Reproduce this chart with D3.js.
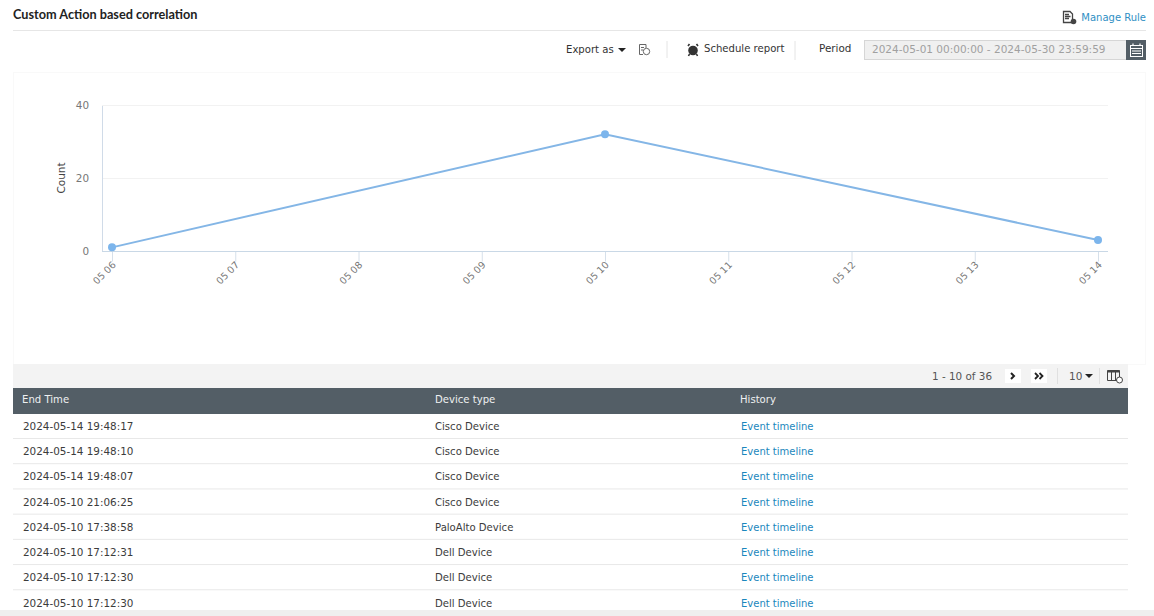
<!DOCTYPE html>
<html>
<head>
<meta charset="utf-8">
<script src="https://cdn.jsdelivr.net/npm/d3@7"></script>
<style>
html, body { margin: 0; padding: 0; background: #fff; overflow: hidden; }
svg { display: block; }
text { font-family: "DejaVu Sans", sans-serif; }
</style>
</head>
<body>
<svg id="page" width="1154" height="616"></svg>
<script>
// chart values
var dayLabels = ["05 06", "05 07", "05 08", "05 09", "05 10", "05 11", "05 12", "05 13", "05 14"];
var pointDays = ["05 06", "05 10", "05 14"];
var pointCounts = [1, 32, 3];
var yTicks = [0, 20, 40];

// table values
var columns = ["End Time", "Device type", "History"];
var endTimes = ["2024-05-14 19:48:17", "2024-05-14 19:48:10", "2024-05-14 19:48:07", "2024-05-10 21:06:25",
  "2024-05-10 17:38:58", "2024-05-10 17:12:31", "2024-05-10 17:12:30", "2024-05-10 17:12:30"];
var deviceTypes = ["Cisco Device", "Cisco Device", "Cisco Device", "Cisco Device",
  "PaloAlto Device", "Dell Device", "Dell Device", "Dell Device"];
var historyLinks = ["Event timeline", "Event timeline", "Event timeline", "Event timeline",
  "Event timeline", "Event timeline", "Event timeline", "Event timeline"];

var svg = d3.select("#page");

function label(parent, x, y, str, size, color, anchor) {
  return parent.append("text").attr("x", x).attr("y", y).text(str)
    .attr("font-size", size).attr("fill", color).attr("text-anchor", anchor || "start");
}

// page header
label(svg, 13, 19, "Custom Action based correlation", 12.7, "#222").style("font-family", "Lato").attr("font-weight", 700);
svg.append("line").attr("x1", 13).attr("x2", 1146).attr("y1", 30.5).attr("y2", 30.5).attr("stroke", "#e6e6e6");
label(svg, 1146, 21, "Manage Rule", 10, "#2f8fc4", "end");

// manage rule icon
var mr = svg.append("g").attr("transform", "translate(1063,11)");
mr.append("path").attr("d", "M0.5 0.5H7L9.5 3V11.5H0.5Z M2 3.5H6 M2 5.5H7.5 M2 7.5H6").attr("fill", "none").attr("stroke", "#444").attr("stroke-width", 1.3);
mr.append("circle").attr("cx", 10.5).attr("cy", 10.5).attr("r", 2.8).attr("fill", "#444");

// toolbar
label(svg, 566, 53, "Export as", 10.1, "#333");
svg.append("path").attr("d", "M618 48H626L622 52Z").attr("fill", "#222");
var ex = svg.append("g").attr("transform", "translate(639,44)");
ex.append("path").attr("d", "M0.5 0.5H7V4 M0.5 0.5V10.5H4 M2 3.5H5 M2 6H4").attr("fill", "none").attr("stroke", "#666");
ex.append("circle").attr("cx", 7.5).attr("cy", 7.5).attr("r", 3.2).attr("fill", "none").attr("stroke", "#666");
svg.append("line").attr("x1", 667).attr("x2", 667).attr("y1", 41).attr("y2", 58).attr("stroke", "#e4e4e4");

var al = svg.append("g").attr("transform", "translate(674,50)");
al.append("circle").attr("cx", 19).attr("cy", 0.5).attr("r", 4.8).attr("fill", "#333");
al.append("path").attr("d", "M14 -4L15.5 -6 M24 -4L22.5 -6 M15.5 4L14.5 6 M22.5 4L23.5 6").attr("stroke", "#333").attr("stroke-width", 1.6);
label(svg, 704, 52, "Schedule report", 10.1, "#333");
svg.append("line").attr("x1", 795).attr("x2", 795).attr("y1", 41).attr("y2", 60).attr("stroke", "#e4e4e4");
label(svg, 819, 52, "Period", 10.4, "#333");

svg.append("rect").attr("x", 864.5).attr("y", 40.5).attr("width", 262).attr("height", 19)
  .attr("fill", "#f0f0f0").attr("stroke", "#d6d6d6");
label(svg, 872, 53, "2024-05-01 00:00:00 - 2024-05-30 23:59:59", 10.5, "#a0a0a0");
svg.append("rect").attr("x", 1126).attr("y", 40).attr("width", 20).attr("height", 20).attr("fill", "#535e66");
var cal = svg.append("g").attr("transform", "translate(1130,43)").attr("fill", "none").attr("stroke", "#fff");
cal.append("rect").attr("x", 0.5).attr("y", 2.5).attr("width", 12).attr("height", 11);
cal.append("path").attr("d", "M0.5 5.5H12.5 M3 0.5V3 M10 0.5V3 M2 8H11 M2 10.5H11").attr("stroke-width", 1.2);

// chart panel
svg.append("rect").attr("x", 13.5).attr("y", 72.5).attr("width", 1132).attr("height", 292)
  .attr("fill", "#fff").attr("stroke", "#f9f9f9");

var x = d3.scalePoint().domain(dayLabels).range([112, 1098]);
var y = d3.scaleLinear().domain([0, 40]).range([251, 105]);

// horizontal grid
svg.append("g").selectAll("line").data(yTicks.slice(1)).join("line")
  .attr("x1", 102).attr("x2", 1108)
  .attr("y1", function(d) { return y(d) + 0.5; }).attr("y2", function(d) { return y(d) + 0.5; })
  .attr("stroke", "#f2f2f2");

var yAxis = svg.append("g").attr("transform", "translate(102,0.5)")
  .call(d3.axisLeft(y).tickValues(yTicks).tickSize(0).tickPadding(13));
yAxis.select(".domain").attr("stroke", "#d0dbe8");
yAxis.selectAll("text").attr("font-size", 10.4).attr("fill", "#777").attr("dy", "0.28em").style("font-family", "DejaVu Sans");

var xAxis = svg.append("g").attr("transform", "translate(0,251.5)")
  .call(d3.axisBottom(x).tickSize(10).tickSizeOuter(0));
xAxis.select(".domain").remove();
xAxis.append("line").attr("x1", 102).attr("x2", 1108).attr("stroke", "#c9d8e6");
xAxis.selectAll(".tick line").attr("stroke", "#d6e0ea");
xAxis.selectAll(".tick text")
  .attr("font-size", 9.6).attr("fill", "#777").style("font-family", "DejaVu Sans")
  .attr("text-anchor", "end").attr("dy", 0).attr("y", 0)
  .attr("transform", "translate(4,14) rotate(-45)");

svg.append("text").attr("transform", "translate(65,178) rotate(-90)")
  .attr("text-anchor", "middle").attr("font-size", 10.5).attr("fill", "#444").text("Count");

var points = pointDays.map(function(d, i) { return { day: d, count: pointCounts[i] }; });
var line = d3.line().x(function(d) { return x(d.day); }).y(function(d) { return y(d.count); });
svg.append("path").datum(points).attr("d", line).attr("fill", "none").attr("stroke", "#84b6e6").attr("stroke-width", 2);
svg.append("g").selectAll("circle").data(points).join("circle")
  .attr("cx", function(d) { return x(d.day); }).attr("cy", function(d) { return y(d.count); })
  .attr("r", 4).attr("fill", "#7cb5ec");

// pager strip
svg.append("rect").attr("x", 13).attr("y", 364).attr("width", 1115).attr("height", 24).attr("fill", "#f3f3f3");
label(svg, 992, 380, "1 - 10 of 36", 10.4, "#555", "end");
svg.append("rect").attr("x", 1005).attr("y", 369).attr("width", 16).attr("height", 14).attr("fill", "#fff");
svg.append("rect").attr("x", 1031).attr("y", 369).attr("width", 16).attr("height", 14).attr("fill", "#fff");
svg.append("path").attr("d", "M1011 373L1014 376L1011 379").attr("fill", "none").attr("stroke", "#222").attr("stroke-width", 2);
svg.append("path").attr("d", "M1035 373L1038 376L1035 379 M1039.5 373L1042.5 376L1039.5 379").attr("fill", "none").attr("stroke", "#222").attr("stroke-width", 1.8);
svg.append("line").attr("x1", 1057.5).attr("x2", 1057.5).attr("y1", 368).attr("y2", 384).attr("stroke", "#e0e0e0");
label(svg, 1069, 380, "10", 10.5, "#555");
svg.append("path").attr("d", "M1085 374H1093L1089 378Z").attr("fill", "#222");
svg.append("line").attr("x1", 1099.5).attr("x2", 1099.5).attr("y1", 368).attr("y2", 384).attr("stroke", "#e0e0e0");
var colIcon = svg.append("g").attr("transform", "translate(1107,370)").attr("fill", "none").attr("stroke", "#444");
colIcon.append("path").attr("d", "M0.5 0.5H12.5V10.5H0.5Z M4.5 2V10.5 M8.5 2V10.5").attr("stroke-width", 1);
colIcon.append("path").attr("d", "M0.5 1.5H12.5").attr("stroke-width", 2);
colIcon.append("circle").attr("cx", 12.5).attr("cy", 10).attr("r", 3).attr("fill", "#fff");

// table
var colX = [22, 435, 740];
svg.append("rect").attr("x", 13).attr("y", 388).attr("width", 1115).attr("height", 26).attr("fill", "#535e66");
columns.forEach(function(c, i) { label(svg, colX[i], 403, c, 10.1, "#eef0f1"); });

var rowY = d3.scaleLinear().domain([0, 7]).range([430, 606.5]);
var rows = svg.append("g").selectAll("g").data(endTimes).join("g")
  .attr("transform", function(d, i) { return "translate(0," + rowY(i) + ")"; });
rows.append("line").attr("x1", 13).attr("x2", 1128).attr("y1", 8.5).attr("y2", 8.5)
  .attr("stroke", function(d, i) { return i < 7 ? "#e8e8e8" : "none"; });
rows.append("text").attr("x", colX[0] + 1).text(function(d) { return d; }).attr("font-size", 10.4).attr("fill", "#3c3c3c");
rows.append("text").attr("x", colX[1]).text(function(d, i) { return deviceTypes[i]; }).attr("font-size", 10.1).attr("fill", "#3c3c3c");
rows.append("text").attr("x", colX[2] + 1).text(function(d, i) { return historyLinks[i]; }).attr("font-size", 10).attr("fill", "#1b87bd");

// bottom band
svg.append("rect").attr("x", 0).attr("y", 610).attr("width", 1154).attr("height", 6).attr("fill", "#efefef");
</script>
</body>
</html>
